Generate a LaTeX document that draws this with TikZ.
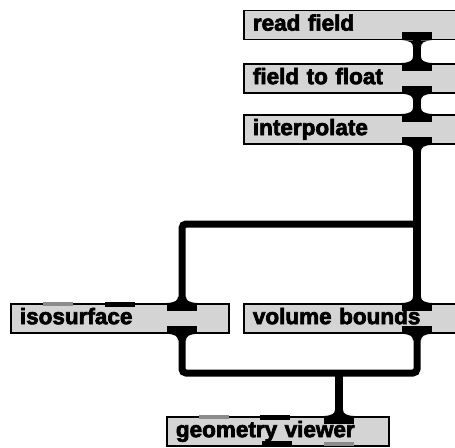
\documentclass[tikz,border=0pt]{standalone}
\usepackage{fontspec}
\newfontfamily\heavy{Liberation Sans}[BoldFeatures={FakeBold=3}]
\definecolor{boxgray}{gray}{0.83}
\definecolor{portgray}{gray}{0.55}
\tikzset{
  box/.style={draw=black, line width=1.8pt, fill=boxgray, anchor=north west,
    minimum height=29pt, inner xsep=9pt, inner ysep=0pt,
    text height=16pt, text depth=4.5pt, align=left,
    font=\heavy\bfseries\fontsize{22.5pt}{25pt}\selectfont},
  port/.style={fill=black, minimum width=30pt, minimum height=8pt, inner sep=0pt, outer sep=0pt},
  deadport/.style={fill=black, minimum width=30pt, minimum height=5pt, inner sep=0pt, outer sep=0pt},
  greyport/.style={fill=portgray, minimum width=30pt, minimum height=4pt, inner sep=0pt, outer sep=0pt},
  wire/.style={line width=8pt, draw=black},
  branch/.style={line width=7pt, draw=black, rounded corners=4pt},
  flaredn/.pic={\fill[black] (-15,0) .. controls (-7,0.5) and (-4,2.5) .. (-4,6.5) -- (4,6.5) .. controls (4,2.5) and (7,0.5) .. (15,0) -- cycle;},
  flareup/.pic={\fill[black] (-15,0) .. controls (-7,-0.5) and (-4,-2.5) .. (-4,-6.5) -- (4,-6.5) .. controls (4,-2.5) and (7,-0.5) .. (15,0) -- cycle;}
}
\begin{document}
\begin{tikzpicture}[x=1pt,y=-1pt]
\useasboundingbox (0,0) rectangle (455,447);
\clip (0,0) rectangle (455,447);
% columns
\coordinate (colR) at (417,0);
\coordinate (colL) at (182,0);
\coordinate (colG) at (339,0);
% boxes
\node[box, text width=212pt] (readfield)  at (243,9.5) {read field};
\node[box, text width=212pt] (fieldfloat) at (243,63)  {field to float};
\node[box, text width=212pt] (interp)     at (243,114) {interpolate};
\node[box, text width=200pt] (isosurf)    at (10,303)  {isosurface};
\node[box, text width=212pt] (volbounds)  at (243,303) {volume bounds};
\node[box, text width=204pt] (geomview)   at (166,416) {geometry viewer};
% ports
\node[port, anchor=south] (readfield-out)  at (readfield.south -| colR) {};
\node[port, anchor=north] (fieldfloat-in)  at (fieldfloat.north -| colR) {};
\node[port, anchor=south] (fieldfloat-out) at (fieldfloat.south -| colR) {};
\node[port, anchor=north] (interp-in)      at (interp.north -| colR) {};
\node[port, anchor=south] (interp-out)     at (interp.south -| colR) {};
\node[port, anchor=north] (isosurf-in)     at (isosurf.north -| colL) {};
\node[port, anchor=south] (isosurf-out)    at (isosurf.south -| colL) {};
\node[port, anchor=north] (volbounds-in)   at (volbounds.north -| colR) {};
\node[port, anchor=south] (volbounds-out)  at (volbounds.south -| colR) {};
\node[port, anchor=north] (geomview-in)    at (geomview.north -| colG) {};
% unconnected ports
\node[greyport, anchor=north] (isosurf-p1)  at (57.5,302.2) {};
\node[deadport, anchor=north] (isosurf-p2)  at (120,302.2) {};
\node[greyport, anchor=north] (geomview-p1) at (214,415.2) {};
\node[deadport, anchor=north] (geomview-p2) at (275,415.2) {};
\node[deadport, anchor=south] (geomview-p3) at (277,445.8) {};
\node[greyport, anchor=south] (geomview-p4) at (339,445.8) {};
% flares
\foreach \p in {readfield-out,fieldfloat-out,interp-out,isosurf-out,volbounds-out}
  \pic at (\p.south) {flaredn};
\foreach \p in {fieldfloat-in,interp-in,isosurf-in,volbounds-in,geomview-in}
  \pic at (\p.north) {flareup};
% junctions
\coordinate (split) at (417,224);
\coordinate (merge) at (339,373);
% connectors
\draw[wire] (readfield-out.south) -- (fieldfloat-in.north);
\draw[wire] (fieldfloat-out.south) -- (interp-in.north);
\draw[wire] (interp-out.south) -- (volbounds-in.north);
\draw[branch] (isosurf-in.north) |- (split);
\draw[branch] (isosurf-out.south) |- (merge) -| (volbounds-out.south);
\draw[wire] (merge) -- (geomview-in.north);
\end{tikzpicture}
\end{document}
